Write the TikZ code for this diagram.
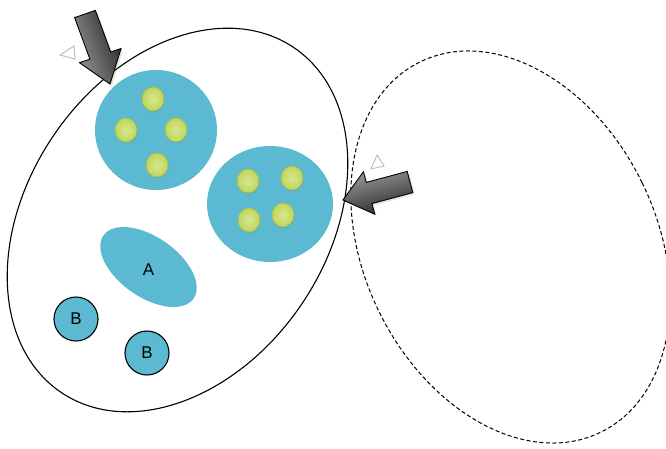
\documentclass[tikz,border=0pt]{standalone}
\usepackage{fontspec}
\setmainfont{Liberation Sans}
\usetikzlibrary{shapes.geometric,shadows}
\definecolor{cyanblob}{HTML}{5BBAD1}
\definecolor{dotin}{HTML}{D6E78E}
\definecolor{dotout}{HTML}{BFD65E}
\definecolor{dotedge}{HTML}{A5BF48}
\tikzset{
  blob/.style={ellipse, fill=cyanblob, inner sep=0pt},
  dot/.style={ellipse, minimum width=22pt, minimum height=24pt, inner sep=0pt,
    inner color=dotin, outer color=dotout, draw=dotedge, line width=0.8pt,
    drop shadow={opacity=0.25, shadow xshift=0.5pt, shadow yshift=-1.5pt}},
  bnode/.style={circle, minimum size=44pt, inner sep=0pt, fill=cyanblob, draw=black, line width=1.1pt, font=\fontsize{17}{19}\selectfont},
  blockarrow/.style={draw=black, line width=0.9pt, line join=miter},
  ghost/.style={draw=black!25, line width=1pt, fill=white}
}
\begin{document}
\begin{tikzpicture}[x=1pt,y=-1pt]
\useasboundingbox (0,0) rectangle (666,448);
% big ellipses
\node[ellipse, draw=black, line width=1.1pt, minimum width=300pt, minimum height=416pt, inner sep=0pt, rotate=-34] (outer) at (177.5,220) {};
\node[ellipse, draw=black, line width=1pt, dash pattern=on 4pt off 2.5pt, minimum width=293pt, minimum height=412pt, inner sep=0pt, rotate=26] (dashed) at (510.5,247) {};
% blobs
\node[blob, minimum width=122pt, minimum height=120pt] (blob1) at (156,130) {};
\node[blob, minimum width=126pt, minimum height=116pt] (blob2) at (270,204) {};
\node[blob, minimum width=110pt, minimum height=60pt, rotate=-35] (aell) at (148.5,267) {};
\node[font=\fontsize{17}{19}\selectfont] (alabel) at (148.5,270) {A};
% dots
\node[dot] (d1) at (153,99) {};
\node[dot] (d2) at (126,130) {};
\node[dot] (d3) at (176,130) {};
\node[dot] (d4) at (157,165) {};
\node[dot] (d5) at (248,181) {};
\node[dot] (d6) at (292,178) {};
\node[dot] (d7) at (249,220) {};
\node[dot] (d8) at (283,215) {};
% B circles
\node[bnode] (b1) at (76,319) {B};
\node[bnode] (b2) at (147,353) {B};
% ghost chevrons
\draw[ghost] (74,46) -- (60,55) -- (75,59) -- cycle;
\draw[ghost] (371,169) -- (377,155) -- (384,166) -- cycle;
% block arrows
\path[blockarrow, left color=black!85, right color=black!40, shading angle=-70,
      drop shadow={opacity=0.2, shadow xshift=2pt, shadow yshift=-2pt}]
  (74.6,17.6) -- (95.4,10.4) -- (110.7,52.0) -- (121.1,48.5) -- (110,84) -- (79.5,62.7) -- (89.9,59.2) -- cycle;
\path[blockarrow, top color=black!40, bottom color=black!85, shading angle=15,
      drop shadow={opacity=0.2, shadow xshift=2pt, shadow yshift=-2pt}]
  (407.2,171.4) -- (412.8,192.6) -- (371.9,203.6) -- (374.8,214.2) -- (343,200) -- (363.4,171.8) -- (366.3,182.4) -- cycle;
\end{tikzpicture}
\end{document}
